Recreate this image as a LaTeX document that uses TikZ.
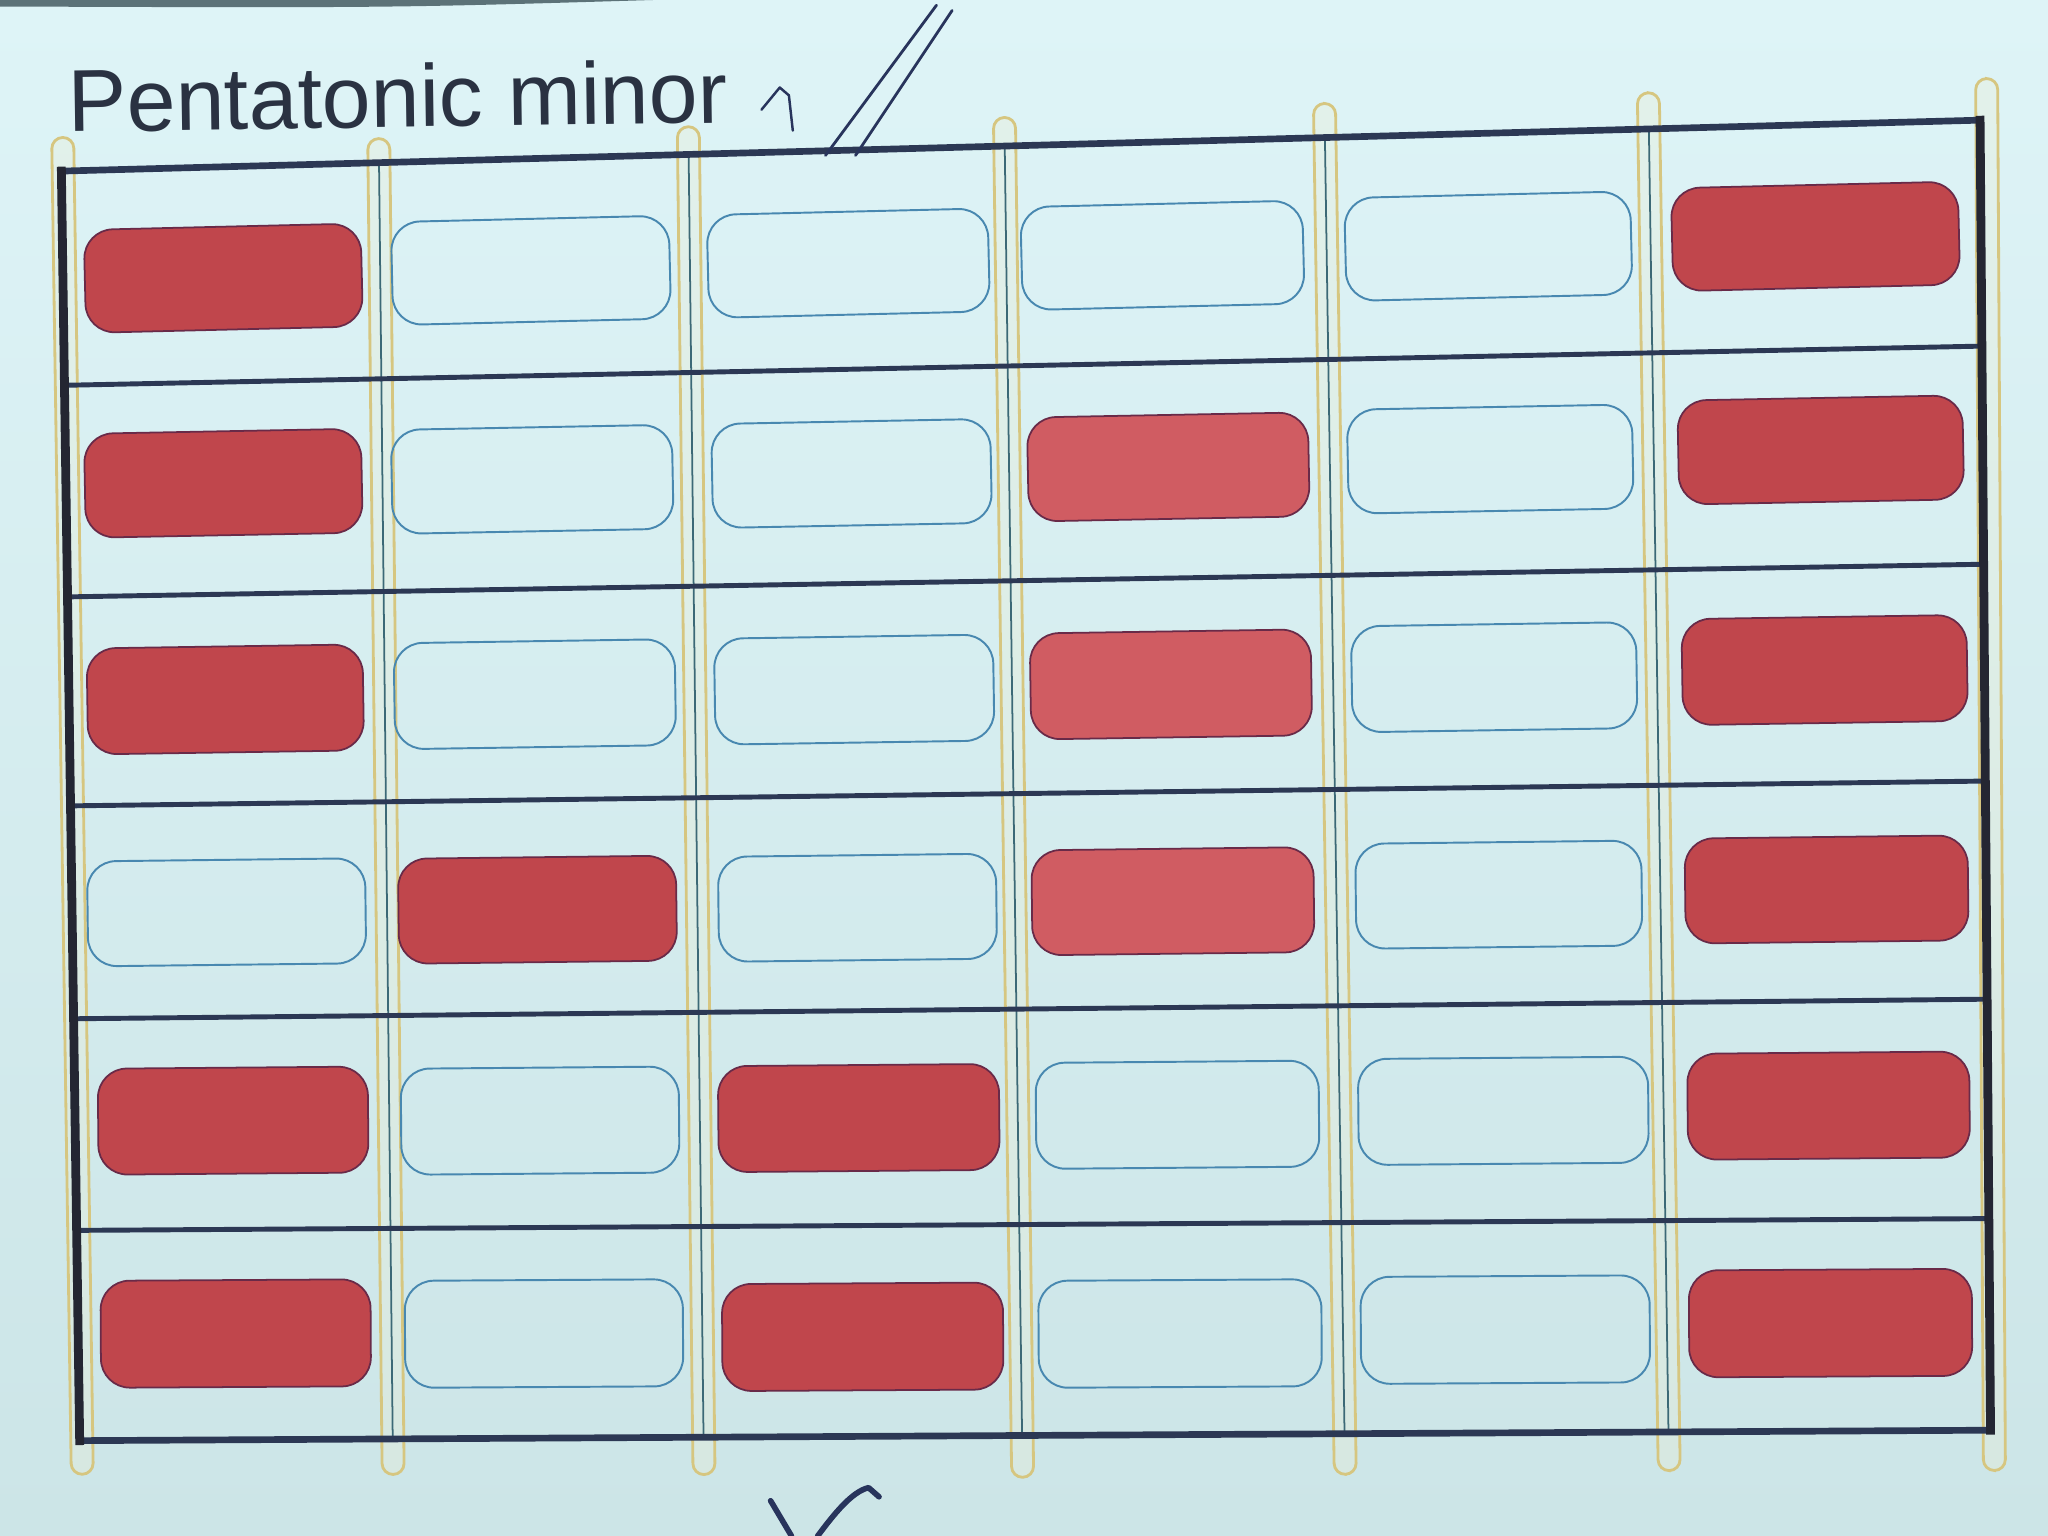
\documentclass[tikz,border=0pt]{standalone}
\usepackage{fontspec}
\setmainfont{Liberation Sans}
\definecolor{paperTop}{RGB}{222,244,247}
\definecolor{paperBot}{RGB}{204,229,231}
\definecolor{capY}{RGB}{214,198,128}
\definecolor{capFill}{RGB}{236,238,214}
\definecolor{fretC}{RGB}{60,105,118}
\definecolor{lineC}{RGB}{44,56,84}
\definecolor{frameC}{RGB}{36,38,50}
\definecolor{redA}{RGB}{192,70,76}
\definecolor{redB}{RGB}{208,92,98}
\definecolor{redEdge}{RGB}{105,42,72}
\definecolor{blueEdge}{RGB}{72,136,176}
\definecolor{titleC}{RGB}{42,50,66}
\definecolor{penC}{RGB}{40,52,92}
\definecolor{edgeC}{RGB}{70,92,98}
\newcommand\nbx[7]{\node[#1, minimum width=#2cm, minimum height=#3cm, rotate=#4] (#5) at (#6,#7) {};}
\begin{document}
\begin{tikzpicture}[x=0.01306cm,y=-0.01306cm,
  capsule/.style={draw=capY, line width=0.8pt, rounded corners=0.11cm, minimum width=0.22cm, inner sep=0pt, fill=capFill, fill opacity=0.35},
  fretline/.style={draw=fretC, line width=0.5pt},
  stringline/.style={draw=lineC, line width=1.4pt},
  frameside/.style={draw=frameC, line width=2.5pt, line cap=rect},
  frametb/.style={draw=lineC, line width=1.9pt, line cap=rect},
  notefull/.style={draw=redEdge, line width=0.5pt, fill=redA, rounded corners=0.29cm, inner sep=0pt},
  notelight/.style={notefull, fill=redB},
  noteempty/.style={draw=blueEdge, line width=0.55pt, rounded corners=0.29cm, inner sep=0pt},
  penline/.style={draw=penC, line width=0.8pt, line cap=round, line join=round}]
\useasboundingbox (0,0) rectangle (1568,1176);
\shade[top color=paperTop, bottom color=paperBot] (0,0) rectangle (1568,1176);
\fill[edgeC, opacity=0.85] (0,0) -- (500,0) .. controls (300,6) .. (0,5) -- cycle;

% capsule axes
\coordinate (Lt) at (48,105);   \coordinate (Lb) at (63,1129);
\coordinate (f1t) at (290,106); \coordinate (f1b) at (301,1129);
\coordinate (f2t) at (527,97);  \coordinate (f2b) at (539,1129);
\coordinate (f3t) at (769,90);  \coordinate (f3b) at (783,1131);
\coordinate (f4t) at (1014,79); \coordinate (f4b) at (1030,1129);
\coordinate (f5t) at (1262,71); \coordinate (f5b) at (1278,1126);
\coordinate (Rt) at (1521,60);  \coordinate (Rb) at (1527,1126);

% yellow capsules
\node[capsule, minimum height=13.37cm, rotate=0.84] (capL) at (55.5,617) {};
\node[capsule, minimum height=13.36cm, rotate=0.62] (cap1) at (295.5,617.5) {};
\node[capsule, minimum height=13.48cm, rotate=0.67] (cap2) at (533,613) {};
\node[capsule, minimum height=13.60cm, rotate=0.77] (cap3) at (776,610.5) {};
\node[capsule, minimum height=13.71cm, rotate=0.87] (cap4) at (1022,604) {};
\node[capsule, minimum height=13.78cm, rotate=0.87] (cap5) at (1270,598.5) {};
\node[capsule, minimum height=13.92cm, rotate=0.32] (capR) at (1524,593) {};

% string lines
\coordinate (h0l) at (47,131);    \coordinate (h0r) at (1516,92);
\coordinate (h1l) at (49.4,295);  \coordinate (h1r) at (1517.4,265);
\coordinate (h2l) at (51.7,457);  \coordinate (h2r) at (1518.7,432);
\coordinate (h3l) at (54,617);    \coordinate (h3r) at (1520,598);
\coordinate (h4l) at (56.3,780);  \coordinate (h4r) at (1521.4,765);
\coordinate (h5l) at (58.7,942);  \coordinate (h5r) at (1522.7,933);
\coordinate (h6l) at (61,1103);   \coordinate (h6r) at (1524,1095);

% fret lines
\foreach \f in {f1,f2,f3,f4,f5}{
  \draw[fretline] (intersection of h0l--h0r and \f t--\f b) -- (intersection of h6l--h6r and \f t--\f b);
}

\foreach \h in {h1,h2,h3,h4,h5}{
  \draw[stringline] (\h l) -- (\h r);
}
\draw[frametb] (h0l) -- (h0r);
\draw[frametb] (h6l) -- (h6r);
\draw[frameside] (h0l) -- (h6l);
\draw[frameside] (h0r) -- (h6r);

% note boxes
\nbx{notefull}{2.77}{1.03}{1.35}{r1c1}{171}{213}
\nbx{noteempty}{2.78}{1.03}{1.35}{r1c2}{406.5}{207}
\nbx{noteempty}{2.81}{1.03}{1.35}{r1c3}{649.5}{201.5}
\nbx{noteempty}{2.82}{1.03}{1.35}{r1c4}{890}{195.5}
\nbx{noteempty}{2.86}{1.03}{1.35}{r1c5}{1139.5}{188.5}
\nbx{notefull}{2.87}{1.03}{1.35}{r1c6}{1390}{181}

\nbx{notefull}{2.77}{1.04}{1.07}{r2c1}{171}{370}
\nbx{noteempty}{2.81}{1.04}{1.07}{r2c2}{407.5}{367}
\nbx{noteempty}{2.79}{1.04}{1.07}{r2c3}{652}{362.5}
\nbx{notelight}{2.81}{1.04}{1.07}{r2c4}{894.5}{357.5}
\nbx{noteempty}{2.85}{1.04}{1.07}{r2c5}{1141}{351.5}
\nbx{notefull}{2.85}{1.04}{1.07}{r2c6}{1394}{344.5}

\nbx{notefull}{2.76}{1.06}{0.86}{r3c1}{172.5}{535.5}
\nbx{noteempty}{2.81}{1.06}{0.86}{r3c2}{409.5}{531.5}
\nbx{noteempty}{2.79}{1.06}{0.86}{r3c3}{654}{528}
\nbx{notelight}{2.81}{1.06}{0.86}{r3c4}{896.5}{524}
\nbx{noteempty}{2.85}{1.06}{0.86}{r3c5}{1144}{518.5}
\nbx{notefull}{2.85}{1.06}{0.86}{r3c6}{1397}{513}

\nbx{noteempty}{2.78}{1.05}{0.66}{r4c1}{173.5}{698.5}
\nbx{notefull}{2.78}{1.05}{0.66}{r4c2}{411.5}{696.5}
\nbx{noteempty}{2.78}{1.05}{0.66}{r4c3}{656.5}{695}
\nbx{notelight}{2.82}{1.05}{0.66}{r4c4}{898}{690}
\nbx{noteempty}{2.86}{1.05}{0.66}{r4c5}{1147.5}{685}
\nbx{notefull}{2.83}{1.05}{0.66}{r4c6}{1398.5}{681}

\nbx{notefull}{2.70}{1.06}{0.47}{r5c1}{178.5}{858}
\nbx{noteempty}{2.78}{1.06}{0.47}{r5c2}{413.5}{858}
\nbx{notefull}{2.81}{1.06}{0.47}{r5c3}{657.5}{856}
\nbx{noteempty}{2.83}{1.06}{0.47}{r5c4}{901.5}{853.5}
\nbx{noteempty}{2.90}{1.06}{0.47}{r5c5}{1151}{850.5}
\nbx{notefull}{2.82}{1.06}{0.47}{r5c6}{1400}{846.5}

\nbx{notefull}{2.70}{1.07}{0.33}{r6c1}{180.5}{1021}
\nbx{noteempty}{2.78}{1.07}{0.33}{r6c2}{416.5}{1021}
\nbx{notefull}{2.81}{1.07}{0.33}{r6c3}{660.5}{1023.5}
\nbx{noteempty}{2.83}{1.07}{0.33}{r6c4}{903.5}{1021}
\nbx{noteempty}{2.89}{1.07}{0.33}{r6c5}{1152.5}{1018}
\nbx{notefull}{2.83}{1.07}{0.33}{r6c6}{1401.5}{1013}

% title and marks
\node[anchor=base west, font=\fontsize{25}{30}\selectfont, text=titleC, inner sep=0pt, rotate=0.8] (title) at (52,101) {Pentatonic minor};
\draw[penline, line width=0.7pt] (583,84) -- (597,67) -- (604,73) -- (607,100);
\draw[penline] (717,4) -- (632,119);
\draw[penline] (729,8) -- (655,119);
\draw[penline, line width=1.6pt] (590,1149) -- (606,1176);
\draw[penline, line width=1.6pt] (626,1176) .. controls (638,1160) and (652,1142) .. (665,1139) -- (673,1146);
\end{tikzpicture}
\end{document}
